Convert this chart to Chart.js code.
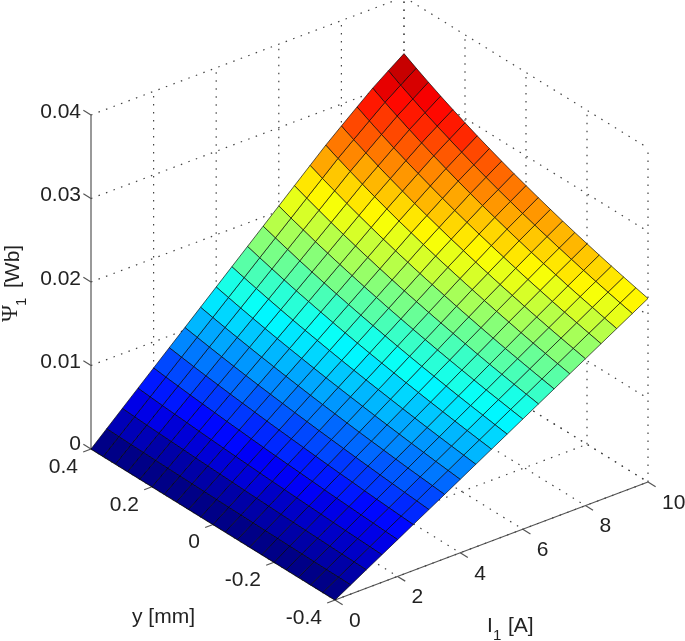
<!DOCTYPE html>
<html>
<head>
    <title>Flux linkage surface</title>
    <script src="https://cdn.jsdelivr.net/npm/chart.js"></script>
    <style>
        body { margin: 0; background: #fff; }
        canvas { display: block; }
    </style>
</head>
<body>
    <canvas id="surfaceChart" width="685" height="641"></canvas>

    <script>
        // Grid of the surface
        const currentsA = [0, 0.5, 1, 1.5, 2, 2.5, 3, 3.5, 4, 4.5, 5, 5.5, 6, 6.5, 7, 7.5, 8, 8.5, 9, 9.5, 10];
        const displacementsMm = [0.4, 0.36, 0.32, 0.28, 0.24, 0.2, 0.16, 0.12, 0.08, 0.04, 0, -0.04, -0.08, -0.12, -0.16, -0.2, -0.24, -0.28, -0.32, -0.36, -0.4];

        // Flux linkage in mWb, one row per current, one column per displacement
        const fluxMWb = [
            [0,0,0,0,0,0,0,0,0,0,0,0,0,0,0,0,0,0,0,0,0],
            [1.72,1.67,1.63,1.59,1.55,1.51,1.48,1.44,1.41,1.38,1.35,1.32,1.29,1.26,1.24,1.21,1.19,1.16,1.14,1.12,1.10],
            [3.44,3.35,3.26,3.18,3.10,3.02,2.95,2.88,2.82,2.75,2.69,2.63,2.58,2.52,2.47,2.42,2.37,2.33,2.28,2.24,2.20],
            [5.16,5.02,4.89,4.77,4.65,4.53,4.43,4.32,4.22,4.13,4.04,3.95,3.87,3.79,3.71,3.63,3.56,3.49,3.42,3.36,3.30],
            [6.88,6.69,6.52,6.35,6.20,6.05,5.90,5.76,5.63,5.50,5.38,5.27,5.16,5.05,4.94,4.84,4.75,4.65,4.57,4.48,4.40],
            [8.60,8.37,8.15,7.94,7.75,7.56,7.38,7.21,7.04,6.88,6.73,6.59,6.45,6.31,6.18,6.06,5.93,5.82,5.71,5.60,5.50],
            [10.31,10.04,9.78,9.53,9.29,9.07,8.85,8.65,8.45,8.26,8.08,7.90,7.73,7.57,7.42,7.27,7.12,6.98,6.85,6.72,6.59],
            [12.03,11.71,11.41,11.12,10.84,10.58,10.33,10.09,9.86,9.63,9.42,9.22,9.02,8.83,8.65,8.48,8.31,8.14,7.99,7.84,7.69],
            [13.75,13.39,13.04,12.71,12.39,12.09,11.80,11.53,11.26,11.01,10.77,10.54,10.31,10.10,9.89,9.69,9.49,9.31,9.13,8.96,8.79],
            [15.47,15.06,14.67,14.30,13.94,13.60,13.28,12.97,12.67,12.38,12.11,11.85,11.60,11.36,11.12,10.90,10.68,10.47,10.27,10.08,9.89],
            [17.19,16.74,16.31,15.89,15.49,15.12,14.76,14.41,14.08,13.76,13.46,13.17,12.89,12.62,12.36,12.11,11.87,11.64,11.42,11.20,10.99],
            [18.91,18.41,17.94,17.47,17.04,16.63,16.23,15.85,15.49,15.14,14.81,14.49,14.18,13.88,13.60,13.32,13.05,12.80,12.56,12.32,12.09],
            [20.63,20.08,19.57,19.06,18.59,18.14,17.71,17.29,16.90,16.51,16.15,15.80,15.47,15.14,14.83,14.53,14.24,13.96,13.70,13.44,13.19],
            [22.35,21.76,21.20,20.65,20.14,19.65,19.18,18.73,18.30,17.89,17.50,17.12,16.76,16.41,16.07,15.74,15.42,15.13,14.84,14.56,14.29],
            [24.07,23.43,22.83,22.24,21.69,21.16,20.66,20.17,19.71,19.26,18.84,18.44,18.05,17.67,17.30,16.95,16.61,16.29,15.98,15.68,15.39],
            [25.79,25.10,24.46,23.83,23.24,22.67,22.13,21.62,21.12,20.64,20.19,19.76,19.34,18.93,18.54,18.17,17.80,17.45,17.12,16.80,16.49],
            [27.38,26.65,25.97,25.31,24.69,24.10,23.52,22.98,22.46,21.96,21.49,21.02,20.58,20.15,19.75,19.35,18.97,18.60,18.25,17.92,17.58],
            [28.95,28.19,27.47,26.78,26.13,25.51,24.91,24.34,23.79,23.27,22.77,22.29,21.83,21.38,20.95,20.54,20.13,19.75,19.39,19.03,18.68],
            [30.50,29.70,28.96,28.24,27.56,26.91,26.28,25.69,25.12,24.57,24.05,23.55,23.06,22.59,22.14,21.72,21.29,20.90,20.52,20.14,19.78],
            [31.88,31.06,30.30,29.56,28.86,28.20,27.55,26.94,26.35,25.78,25.26,24.73,24.24,23.76,23.30,22.86,22.43,22.02,21.63,21.25,20.88],
            [33.22,32.39,31.61,30.85,30.14,29.46,28.80,28.18,27.58,27.00,26.46,25.93,25.42,24.93,24.46,24.01,23.57,23.15,22.75,22.36,21.98]
        ];

        // Axis ticks
        const currentTicks = [0, 2, 4, 6, 8, 10];
        const currentTickLabels = ['0', '2', '4', '6', '8', '10'];
        const displacementTicks = [0.4, 0.2, 0, -0.2, -0.4];
        const displacementTickLabels = ['0.4', '0.2', '0', '-0.2', '-0.4'];
        const fluxTicks = [0, 0.01, 0.02, 0.03, 0.04];
        const fluxTickLabels = ['0', '0.01', '0.02', '0.03', '0.04'];

        // Orthographic view of the box, in the units of the chart scales
        function project(current, disp, flux) {
            return {
                x: 335 + 31.3 * current - 305 * (disp + 0.4),
                y: 600 - 11.8 * current - 188.75 * (disp + 0.4) - 8350 * flux
            };
        }

        // MATLAB jet, 64 levels
        function jet(value, max) {
            const level = Math.min(63, Math.floor(value / max * 64));
            const t = (level + 0.5) / 64;
            const c = v => Math.round(255 * Math.max(0, Math.min(1, v)));
            const r = c(Math.min(4 * t - 1.5, -4 * t + 4.5));
            const g = c(Math.min(4 * t - 0.5, -4 * t + 3.5));
            const b = c(Math.min(4 * t + 0.5, -4 * t + 2.5));
            return 'rgb(' + r + ',' + g + ',' + b + ')';
        }

        const datasets = [];
        const fluxMax = 33.22;

        // Surface cells, coloured from their lowest corner like a faceted surf
        for (let i = 0; i < currentsA.length - 1; i++) {
            for (let j = 0; j < displacementsMm.length - 1; j++) {
                const corners = [[i, j], [i + 1, j], [i + 1, j + 1], [i, j + 1], [i, j]];
                datasets.push({
                    data: corners.map(c => project(currentsA[c[0]], displacementsMm[c[1]], fluxMWb[c[0]][c[1]] / 1000)),
                    showLine: true,
                    fill: 'shape',
                    backgroundColor: jet(fluxMWb[i][j + 1], fluxMax),
                    borderColor: 'rgba(0,0,0,0.8)',
                    borderWidth: 0.8,
                    pointRadius: 0
                });
            }
        }

        function addLine(from, to, dotted) {
            datasets.push({
                data: [project(from[0], from[1], from[2]), project(to[0], to[1], to[2])],
                showLine: true,
                fill: false,
                borderColor: dotted ? '#444' : '#555',
                borderWidth: 1.2,
                borderDash: dotted ? [1.5, 6.5] : [],
                pointRadius: 0
            });
        }

        const zTop = fluxTicks[fluxTicks.length - 1];

        // Dotted grid on the floor and the two back walls
        currentTicks.forEach(c => {
            addLine([c, 0.4, 0], [c, -0.4, 0], true);
            if (c > 0) addLine([c, 0.4, 0], [c, 0.4, zTop], true);
        });
        displacementTicks.forEach(d => {
            addLine([0, d, 0], [10, d, 0], true);
            addLine([10, d, 0], [10, d, zTop], true);
        });
        fluxTicks.forEach(f => {
            addLine([0, 0.4, f], [10, 0.4, f], true);
            addLine([10, 0.4, f], [10, -0.4, f], true);
        });

        // Solid axes and tick marks
        addLine([0, 0.4, 0], [0, 0.4, zTop], false);
        addLine([0, 0.4, 0], [0, -0.4, 0], false);
        addLine([0, -0.4, 0], [10, -0.4, 0], false);
        fluxTicks.forEach(f => addLine([0, 0.4, f], [0, 0.425, f], false));
        displacementTicks.forEach(d => addLine([0, d, 0], [-0.25, d, 0], false));
        currentTicks.forEach(c => addLine([c, -0.4, 0], [c, -0.425, 0], false));

        // Tick labels and axis titles
        const labelsPlugin = {
            id: 'surfaceLabels',
            afterDraw(chart) {
                const ctx = chart.ctx;
                const px = v => chart.scales.x.getPixelForValue(v);
                const py = v => chart.scales.y.getPixelForValue(v);
                const font = '21px "Liberation Sans"';
                const subFont = '15px "Liberation Sans"';

                ctx.save();
                ctx.fillStyle = '#222';
                ctx.font = font;
                ctx.textBaseline = 'middle';

                ctx.textAlign = 'right';
                fluxTicks.forEach((f, k) => {
                    const p = project(0, 0.4, f);
                    ctx.fillText(fluxTickLabels[k], px(p.x) - 10, py(p.y) - (f === 0 ? 5 : 3));
                });
                displacementTicks.forEach((d, k) => {
                    const p = project(0, d, 0);
                    ctx.fillText(displacementTickLabels[k], px(p.x) - 13, py(p.y) + 18);
                });
                ctx.textAlign = 'left';
                currentTicks.forEach((c, k) => {
                    const p = project(c, -0.4, 0);
                    ctx.fillText(currentTickLabels[k], px(p.x) + 14, py(p.y) + 21);
                });

                ctx.textBaseline = 'alphabetic';
                ctx.fillText('y [mm]', 132, 623);
                ctx.fillText('I', 487, 632);
                ctx.fillText('[A]', 508, 632);
                ctx.font = subFont;
                ctx.fillText('1', 493, 640);

                ctx.translate(17, 322);
                ctx.rotate(-Math.PI / 2);
                ctx.font = '23px "Liberation Serif"';
                ctx.fillText('\u03A8', 0, 0);
                ctx.font = font;
                ctx.fillText('[Wb]', 34, 2);
                ctx.font = subFont;
                ctx.fillText('1', 16, 9);
                ctx.restore();
            }
        };

        new Chart(document.getElementById('surfaceChart').getContext('2d'), {
            type: 'scatter',
            data: { datasets: datasets },
            options: {
                responsive: false,
                animation: false,
                layout: { padding: 0 },
                elements: { line: { tension: 0 } },
                plugins: {
                    legend: { display: false },
                    tooltip: { enabled: false }
                },
                scales: {
                    x: { type: 'linear', min: 0, max: 685, display: false },
                    y: { type: 'linear', min: 0, max: 641, reverse: true, display: false }
                }
            },
            plugins: [labelsPlugin]
        });
    </script>
</body>
</html>
